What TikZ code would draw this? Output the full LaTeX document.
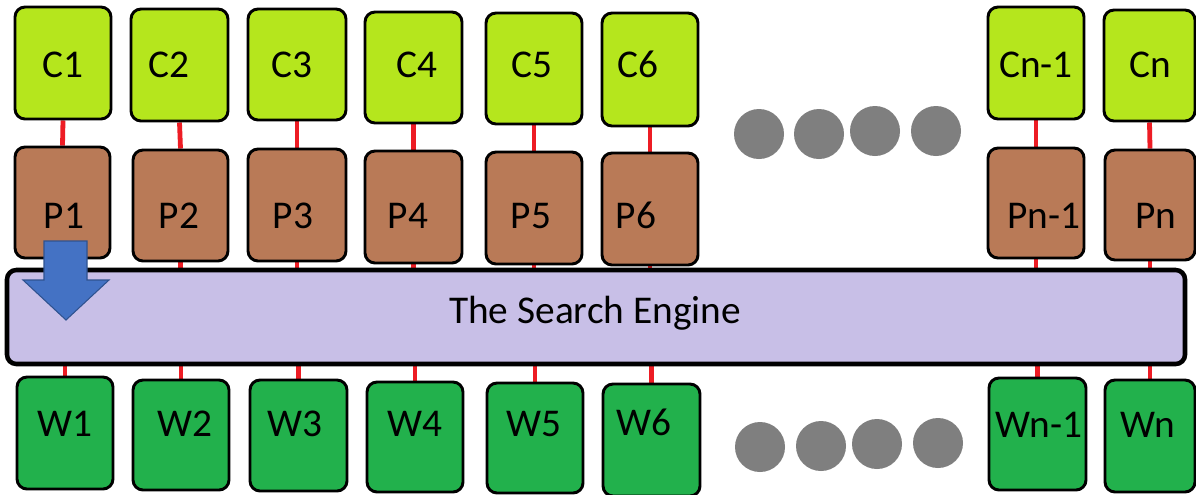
\documentclass[tikz,border=0pt]{standalone}
\usepackage{fontspec}
\setmainfont{Carlito}
\usetikzlibrary{fit,backgrounds}
\definecolor{cfill}{HTML}{B5E61D}
\definecolor{pfill}{HTML}{B97A57}
\definecolor{wfill}{HTML}{22B14C}
\definecolor{efill}{HTML}{C8BFE7}
\definecolor{rline}{HTML}{ED1C24}
\definecolor{dotgray}{HTML}{7F7F7F}
\definecolor{arrfill}{HTML}{4472C4}
\definecolor{arrdraw}{HTML}{2F528F}
\tikzset{
  box/.style={draw=black, line width=2.2pt, rounded corners=7.5pt, inner sep=0pt},
  cbox/.style={box, fill=cfill},
  pbox/.style={box, fill=pfill},
  wbox/.style={box, fill=wfill},
  ebox/.style={draw=black, line width=3.4pt, rounded corners=7pt, inner sep=0pt, fill=efill},
  lbl/.style={anchor=base, inner sep=0pt, font=\fontsize{29.5}{31}\selectfont},
  rl/.style={draw=rline, line width=3.6pt},
  dot/.style={circle, fill=dotgray, minimum size=37.5pt, inner sep=0pt},
  bigarrow/.style={fill=arrfill, draw=arrdraw, line width=0.8pt, line join=miter}
}
\begin{document}
\begin{tikzpicture}[x=0.75pt, y=-0.75pt]
\clip (0,0) rectangle (1196,494);
% top row
\node[cbox, fit={(15,7)(111,119)}] (C1) {};
\node[cbox, fit={(131,9)(228,121)}] (C2) {};
\node[cbox, fit={(248,9)(346,120)}] (C3) {};
\node[cbox, fit={(365,12)(462,123)}] (C4) {};
\node[cbox, fit={(486,13)(582,124)}] (C5) {};
\node[cbox, fit={(602,13)(698,126)}] (C6) {};
\node[cbox, fit={(988,7)(1084,119)}] (C7) {};
\node[cbox, fit={(1104,10)(1195,121)}] (C8) {};
% middle row
\node[pbox, fit={(15,147)(110,258)}] (P1) {};
\node[pbox, fit={(133,150)(228,261)}] (P2) {};
\node[pbox, fit={(248,149)(346,261)}] (P3) {};
\node[pbox, fit={(365,151)(462,263)}] (P4) {};
\node[pbox, fit={(486,152)(582,264)}] (P5) {};
\node[pbox, fit={(602,153)(698,265)}] (P6) {};
\node[pbox, fit={(988,148)(1084,258)}] (P7) {};
\node[pbox, fit={(1105,150)(1195,260)}] (P8) {};
% bottom row
\node[wbox, fit={(17,377)(113,489)}] (W1) {};
\node[wbox, fit={(133,380)(229,490)}] (W2) {};
\node[wbox, fit={(250,380)(347,491)}] (W3) {};
\node[wbox, fit={(367,382)(463,492)}] (W4) {};
\node[wbox, fit={(487,383)(583,493)}] (W5) {};
\node[wbox, fit={(603,384)(700,496)}] (W6) {};
\node[wbox, fit={(989,378)(1086,490)}] (W7) {};
\node[wbox, fit={(1105,380)(1195,492)}] (W8) {};
% engine
\node[ebox, fit={(7,270)(1185,364)}] (E) {};
\node[lbl] (Et) at (595,323) {The Search Engine};
% connectors
\begin{pgfonlayer}{background}
\fill[white] (0,0) rectangle (1196,494);
\foreach \i in {1,...,8}{
  \draw[rl] (C\i.south) -- (P\i.north);
  \draw[rl] (P\i.south) -- (P\i.south |- E.north);
  \draw[rl] (W\i.north |- E.south) -- (W\i.north);
}
\end{pgfonlayer}
% labels
\node[lbl] at (63,77) {C1};
\node[lbl] at (169,77) {C2};
\node[lbl] at (292,77) {C3};
\node[lbl] at (417,77) {C4};
\node[lbl] at (532,77) {C5};
\node[lbl] at (638,77) {C6};
\node[lbl] at (1036,77) {Cn-1};
\node[lbl] at (1150,77) {Cn};
\node[lbl] at (64,228) {P1};
\node[lbl] at (179,228) {P2};
\node[lbl] at (293,228) {P3};
\node[lbl] at (408,228) {P4};
\node[lbl] at (531,228) {P5};
\node[lbl] at (636,228) {P6};
\node[lbl] at (1044,228) {Pn-1};
\node[lbl] at (1156,228) {Pn};
\node[lbl] at (65,436) {W1};
\node[lbl] at (185,436) {W2};
\node[lbl] at (295,436) {W3};
\node[lbl] at (415,436) {W4};
\node[lbl] at (534,436) {W5};
\node[lbl] at (644,435) {W6};
\node[lbl] at (1039,437) {Wn-1};
\node[lbl] at (1148,437) {Wn};
% dots
\node[dot] (d1) at (759,134) {};
\node[dot] (d2) at (819,134) {};
\node[dot] (d3) at (875,131) {};
\node[dot] (d4) at (936,131) {};
\node[dot] (d5) at (760,447) {};
\node[dot] (d6) at (821,446) {};
\node[dot] (d7) at (877,444) {};
\node[dot] (d8) at (938,443) {};
% blue arrow
\draw[bigarrow] (44,241) -- (87,241) -- (87,280) -- (109,280) -- (66,320) -- (23,280) -- (44,280) -- cycle;
\end{tikzpicture}
\end{document}
